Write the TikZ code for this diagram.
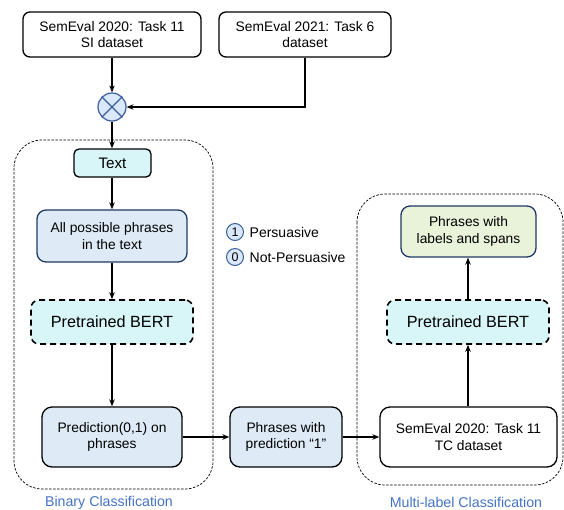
\documentclass[tikz,border=0pt]{standalone}
\usepackage{fontspec}
\setmainfont{Liberation Sans}
\usetikzlibrary{arrows.meta}
\definecolor{cyanfill}{HTML}{D8F5F7}
\definecolor{bluefill}{HTML}{DEEBF7}
\definecolor{navy}{HTML}{203864}
\definecolor{greenfill}{HTML}{E9F3DA}
\definecolor{mixfill}{HTML}{DAE8FC}
\definecolor{mixline}{HTML}{3A5D9C}
\definecolor{labelblue}{HTML}{4472C4}
\tikzset{
  base/.style={draw, line width=1.3pt, rounded corners=7pt, align=center, inner sep=0pt,
    font=\fontsize{13.8}{16.6}\selectfont},
  plainbox/.style={base, fill=white},
  cyanbox/.style={base, fill=cyanfill, font=\fontsize{15.2}{18}\selectfont},
  bluebox/.style={base, fill=bluefill, draw=navy, rounded corners=9pt},
  predbox/.style={base, fill=bluefill, rounded corners=10pt},
  greenbox/.style={base, fill=greenfill, draw=navy, rounded corners=9pt},
  bertbox/.style={base, fill=cyanfill, dashed, dash pattern=on 6pt off 4pt, line width=1.6pt,
    rounded corners=8pt, font=\fontsize{16.2}{19}\selectfont},
  container/.style={draw, line width=0.7pt, dash pattern=on 2.5pt off 1.5pt, rounded corners=28pt},
  arrow/.style={draw, line width=1.3pt, -{Stealth[length=7pt,width=5.5pt]}},
  legcircle/.style={circle, draw=mixline, fill=mixfill, line width=1pt, minimum size=17pt, inner sep=0pt,
    font=\fontsize{12.5}{14}\selectfont},
  legtext/.style={anchor=west, inner sep=0pt, font=\fontsize{14}{16}\selectfont},
  grouplabel/.style={text=labelblue, inner sep=0pt, font=\fontsize{14.2}{16}\selectfont}
}
\begin{document}
\begin{tikzpicture}[x=1pt, y=-1pt]
\useasboundingbox (0,0) rectangle (564,509);
% containers
\draw[container] (14,140) rectangle (213,489);
\draw[container] (357,194) rectangle (563,485);
% nodes
\node[plainbox, minimum width=178pt, minimum height=45pt] (semA) at (112,34.5) {SemEval 2020: Task 11\\SI dataset};
\node[plainbox, minimum width=172pt, minimum height=45pt] (semB) at (305,34.5) {SemEval 2021: Task 6\\dataset};
\node[circle, draw=mixline, fill=mixfill, line width=1.2pt, minimum size=28pt, inner sep=0pt] (mix) at (112,107) {};
\draw[mixline, line width=1.2pt] (mix.north west) -- (mix.south east) (mix.north east) -- (mix.south west);
\node[cyanbox, minimum width=77pt, minimum height=28pt, rounded corners=5pt] (text) at (112.5,163) {Text};
\node[bluebox, minimum width=150pt, minimum height=52pt] (allph) at (112,236) {All possible phrases\\in the text};
\node[bertbox, minimum width=162pt, minimum height=44pt] (bertA) at (112,322) {Pretrained BERT};
\node[predbox, minimum width=140pt, minimum height=60pt] (pred) at (112,437) {Prediction(0,1) on\\phrases};
\node[predbox, minimum width=112pt, minimum height=60pt] (pred1) at (286,437) {Phrases with\\prediction “1”};
\node[plainbox, minimum width=177pt, minimum height=60pt, rounded corners=10pt] (tc) at (468.5,437) {SemEval 2020: Task 11\\TC dataset};
\node[bertbox, minimum width=162pt, minimum height=44pt] (bertB) at (468,322) {Pretrained BERT};
\node[greenbox, minimum width=135pt, minimum height=51pt] (lab) at (468.5,231.5) {Phrases with\\labels and spans};
% legend
\node[legcircle] (one) at (235,232) {1};
\node[legcircle] (zero) at (235,257) {0};
\node[legtext] (pers) at (249.5,232) {Persuasive};
\node[legtext] (npers) at (249.5,257) {Not-Persuasive};
% group labels
\node[grouplabel] (binlab) at (109,503) {Binary Classification};
\node[grouplabel] (mullab) at (466,502) {Multi-label Classification};
% connectors
\coordinate (bend) at (semB.south |- mix.east);
\draw[arrow] (semA.south) -- (mix.north);
\draw[arrow] (semB.south) -- (bend) -- (mix.east);
\draw[arrow] (mix.south) -- (text.north -| mix.south);
\draw[arrow] (text.south -| allph.north) -- (allph.north);
\draw[arrow] (allph.south) -- (bertA.north);
\draw[arrow] (bertA.south) -- (pred.north);
\draw[arrow] (pred.east) -- (pred1.west);
\draw[arrow] (pred1.east) -- (tc.west);
\draw[arrow] (tc.north -| bertB.south) -- (bertB.south);
\draw[arrow] (bertB.north) -- (lab.south -| bertB.north);
\end{tikzpicture}
\end{document}
